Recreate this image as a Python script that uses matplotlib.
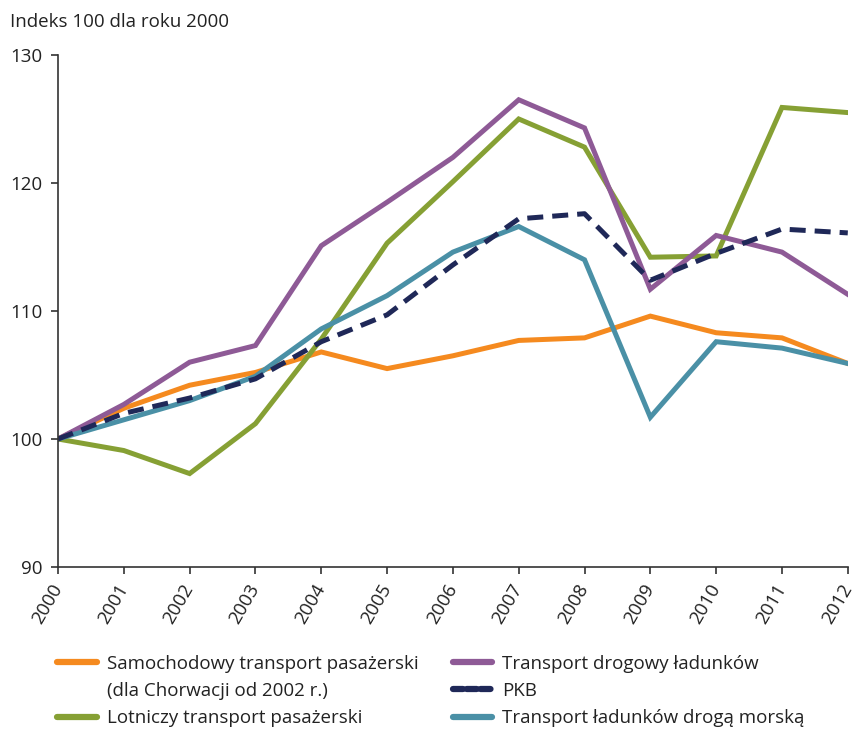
import matplotlib
matplotlib.use('Agg')
import matplotlib.pyplot as plt
from matplotlib.lines import Line2D

plt.rcParams['font.family'] = ['Open Sans', 'DejaVu Sans']

# data (index, 2000 = 100)
years = [2000, 2001, 2002, 2003, 2004, 2005, 2006, 2007, 2008, 2009, 2010, 2011, 2012]
samochodowy = [100, 102.4, 104.2, 105.2, 106.8, 105.5, 106.5, 107.7, 107.9, 109.6, 108.3, 107.9, 105.9]
lotniczy = [100, 99.1, 97.3, 101.2, 107.8, 115.3, 120.1, 125.0, 122.8, 114.2, 114.3, 125.9, 125.5]
drogowy = [100, 102.7, 106.0, 107.3, 115.1, 118.5, 122.0, 126.5, 124.3, 111.7, 115.9, 114.6, 111.3]
pkb = [100, 102.0, 103.2, 104.7, 107.6, 109.7, 113.6, 117.2, 117.6, 112.4, 114.5, 116.4, 116.1]
morski = [100, 101.5, 103.0, 104.9, 108.6, 111.2, 114.6, 116.6, 114.0, 101.7, 107.6, 107.1, 105.9]

c_orange = '#F58A1F'
c_green = '#86A034'
c_purple = '#8E5A96'
c_navy = '#1F2858'
c_teal = '#4A90A6'

fs = 13.5

fig = plt.figure(figsize=(8.58, 7.29), dpi=100)
ax = fig.add_axes([0.0676, 0.2222, 0.9205, 0.7024])

lw = 3.6
ax.plot(years, samochodowy, color=c_orange, lw=lw, solid_joinstyle='miter')
ax.plot(years, lotniczy, color=c_green, lw=lw, solid_joinstyle='miter')
ax.plot(years, drogowy, color=c_purple, lw=lw, solid_joinstyle='miter')
ax.plot(years, morski, color=c_teal, lw=lw, solid_joinstyle='miter')
ax.plot(years, pkb, color=c_navy, lw=lw, dashes=(3.2, 1.8))

ax.set_xlim(2000, 2012)
ax.set_ylim(90, 130)
ax.set_yticks([90, 100, 110, 120, 130])
ax.set_xticks(years)
ax.set_xticklabels([str(y) for y in years], rotation=60, ha='right', va='center',
                   rotation_mode='anchor')
for s in ['top', 'right']:
    ax.spines[s].set_visible(False)
for s in ['left', 'bottom']:
    ax.spines[s].set_color('#333333')
    ax.spines[s].set_linewidth(1.2)
ax.tick_params(axis='both', direction='out', length=5, width=1.2, color='#333333',
               labelsize=fs, labelcolor='#222222')
ax.tick_params(axis='x', pad=8)
ax.tick_params(axis='y', pad=6)

fig.text(0.012, 0.97, 'Indeks 100 dla roku 2000', fontsize=fs, color='#222222',
         ha='left', va='center')

handles = [
    Line2D([], [], color=c_orange, lw=4.5, solid_capstyle='round'),
    Line2D([], [], color='none'),
    Line2D([], [], color=c_green, lw=4.5, solid_capstyle='round'),
    Line2D([], [], color=c_purple, lw=4.5, solid_capstyle='round'),
    Line2D([], [], color=c_navy, lw=4.5, dashes=(1.6, 0.6), dash_capstyle='round'),
    Line2D([], [], color=c_teal, lw=4.5, solid_capstyle='round'),
]
labels = [
    'Samochodowy transport pasażerski',
    '(dla Chorwacji od 2002 r.)',
    'Lotniczy transport pasażerski',
    'Transport drogowy ładunków',
    'PKB',
    'Transport ładunków drogą morską',
]
fig.legend(handles, labels, ncol=2, loc='upper left', bbox_to_anchor=(0.067, 0.102),
           frameon=False, fontsize=fs, handlelength=2.1, handletextpad=0.55,
           columnspacing=1.8, labelspacing=0.5, borderaxespad=0, borderpad=0,
           labelcolor='#222222')

fig.savefig('out.png', dpi=100)
